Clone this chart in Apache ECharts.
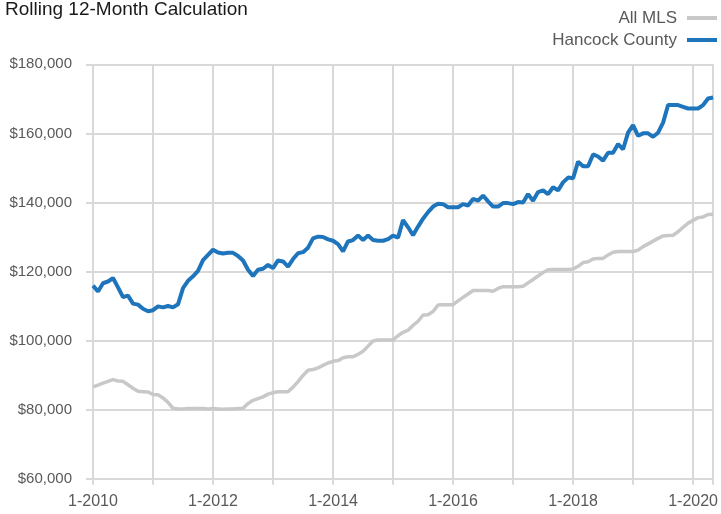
<!DOCTYPE html>
<html>
<head>
<meta charset="utf-8">
<script src="https://cdn.jsdelivr.net/npm/echarts@6/dist/echarts.min.js"></script>
<style>
html,body{margin:0;padding:0;background:#fff;}
#chart{width:721px;height:514px;}
</style>
</head>
<body>
<div id="chart"></div>
<script>
// Monthly categories, Jan 2010 .. May 2020
const startYear = 2010;
const monthCount = 125;
const categories = [];
for (let k = 0; k < monthCount; k++) {
  categories.push((k % 12 + 1) + '-' + (startYear + Math.floor(k / 12)));
}

const seriesNames = ['All MLS', 'Hancock County'];

// All MLS rolling 12-month values
const allMLS = [
  86600, 87100, 87700, 88200, 88700, 88300, 88200, 87200, 86200, 85300, 85200, 85100,
  84400, 84300, 83400, 82100, 80400, 80200, 80200, 80300, 80300, 80300, 80300, 80200,
  80300, 80200, 80100, 80200, 80200, 80300, 80400, 81800, 82700, 83200, 83700, 84500,
  84900, 85200, 85200, 85200, 86500, 88100, 89900, 91400, 91600, 92100, 92800, 93500,
  94000, 94200, 95000, 95300, 95300, 96000, 96900, 98400, 99900, 100200, 100200, 100200,
  100200, 101400, 102400, 103000, 104400, 105600, 107400, 107500, 108400, 110300, 110400, 110400,
  110400, 111500, 112500, 113500, 114500, 114500, 114500, 114500, 114300, 115100, 115600, 115600,
  115600, 115600, 115700, 116700, 117700, 118700, 119700, 120500, 120600, 120600, 120600, 120600,
  120700, 121500, 122600, 122800, 123600, 123800, 123800, 124800, 125600, 125800, 125800, 125800,
  125800, 126200, 127200, 128000, 128800, 129600, 130300, 130400, 130500, 131500, 132800, 134000,
  134800, 135600, 135800, 136500, 136600
];

// Hancock County rolling 12-month values
const hancock = [
  115900, 114200, 116600, 117100, 118100, 115400, 112600, 113000, 110700, 110400, 109200, 108500,
  108800, 109900, 109600, 110000, 109600, 110500, 115200, 117300, 118600, 120200, 123300, 124800,
  126300, 125500, 125200, 125400, 125400, 124500, 123200, 120500, 118700, 120500, 120800, 121900,
  121000, 123200, 122900, 121400, 123600, 125300, 125600, 126900, 129600, 130100, 130000, 129300,
  128900, 127900, 125800, 128700, 129100, 130400, 129100, 130400, 129100, 128900, 128900, 129400,
  130400, 129800, 134900, 132800, 130500, 133000, 135300, 137200, 138800, 139600, 139500, 138600,
  138600, 138600, 139500, 139100, 141000, 140500, 142000, 140300, 138800, 138800, 139800, 139800,
  139500, 140100, 140000, 142400, 140500, 143000, 143500, 142400, 144400, 143500, 145800, 147200,
  147000, 151800, 150500, 150500, 153900, 153300, 152100, 154400, 154400, 156900, 155400, 160200,
  162400, 159300, 160000, 160000, 159000, 160200, 163100, 168200, 168200, 168200, 167700, 167200,
  167200, 167200, 168200, 170100, 170400
];

const yMin = 60000, yMax = 180000, yStep = 20000;

const FONT = '"Liberation Sans", Arial, sans-serif';
const GRID_COLOR = '#d9d9d9';
const isYearStart = (i) => i % 12 === 0 || i === monthCount - 1;

const chart = echarts.init(document.getElementById('chart'), null, {renderer: 'canvas'});
chart.setOption({
  animation: false,
  backgroundColor: '#ffffff',
  title: {
    text: 'Rolling 12-Month Calculation',
    left: 5,
    top: 0,
    padding: 0,
    textStyle: {fontFamily: FONT, fontSize: 19, fontWeight: 'normal', color: '#1a1a1a'}
  },
  legend: {
    data: seriesNames,
    orient: 'vertical',
    right: 4,
    top: 9,
    padding: 0,
    align: 'right',
    icon: 'rect',
    itemWidth: 30,
    itemHeight: 4,
    itemGap: 4,
    textStyle: {fontFamily: FONT, fontSize: 17, color: '#595959', lineHeight: 18, padding: [0, 5, 0, 0]}
  },
  grid: {left: 93, right: 4, top: 64.3, bottom: 35.3, containLabel: false},
  xAxis: {
    type: 'category',
    data: categories,
    boundaryGap: false,
    axisLine: {show: true, lineStyle: {color: GRID_COLOR, width: 2}},
    axisTick: {show: true, length: 6, interval: (i) => isYearStart(i), lineStyle: {color: GRID_COLOR, width: 2}},
    splitLine: {show: true, interval: (i) => isYearStart(i), lineStyle: {color: GRID_COLOR, width: 2}},
    axisLabel: {
      interval: (i) => i % 24 === 0,
      margin: 15,
      fontFamily: FONT,
      fontSize: 16,
      color: '#595959'
    }
  },
  yAxis: {
    type: 'value',
    min: yMin,
    max: yMax,
    interval: yStep,
    axisLine: {show: false},
    axisTick: {show: true, length: 7, lineStyle: {color: GRID_COLOR, width: 2}},
    splitLine: {show: true, lineStyle: {color: GRID_COLOR, width: 2}},
    axisLabel: {
      margin: 21,
      fontFamily: FONT,
      fontSize: 15,
      color: '#595959',
      formatter: (v) => '$' + v.toLocaleString('en-US')
    }
  },
  series: [
    {
      name: seriesNames[0],
      type: 'line',
      data: allMLS,
      showSymbol: false,
      symbol: 'none',
      lineStyle: {color: '#c8c8c8', width: 3.5},
      itemStyle: {color: '#c8c8c8'},
      z: 2
    },
    {
      name: seriesNames[1],
      type: 'line',
      data: hancock,
      showSymbol: false,
      symbol: 'none',
      lineStyle: {color: '#1f75bb', width: 4},
      itemStyle: {color: '#1f75bb'},
      z: 3
    }
  ]
});
</script>
</body>
</html>
